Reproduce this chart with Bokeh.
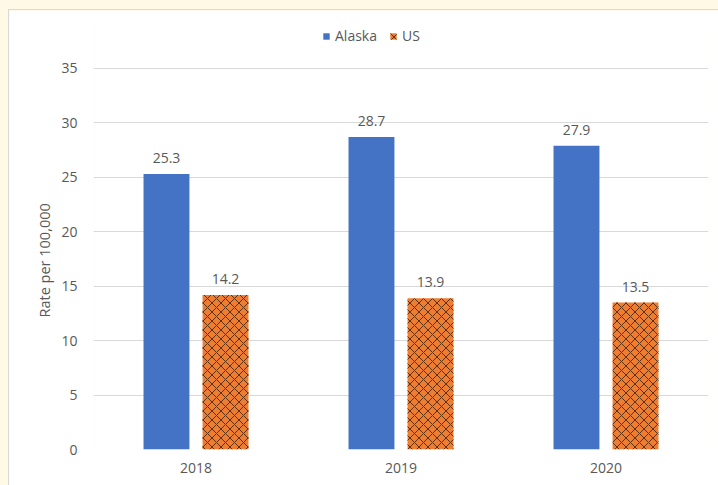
from bokeh.plotting import figure
from bokeh.models import (ColumnDataSource, Legend, LegendItem, FactorRange,
                          GlobalInlineStyleSheet, Range1d, Title)
from bokeh.transform import dodge
from bokeh.embed import file_html
from bokeh.resources import INLINE
from bokeh.core.properties import value

years = ["2018", "2019", "2020"]
alaska = [25.3, 28.7, 27.9]
us = [14.2, 13.9, 13.5]
y_ticks = [0, 5, 10, 15, 20, 25, 30, 35]
series_names = ["Alaska", "US"]
y_title = "Rate per 100,000"

src = ColumnDataSource(dict(
    year=years,
    alaska=alaska,
    us=us,
    alaska_lbl=[f"{v:.1f}" for v in alaska],
    us_lbl=[f"{v:.1f}" for v in us],
))

FONT = "Open Sans"
GRAY = "#595959"

# frame extends a little above 35 so the legend sits inside it
p = figure(
    x_range=FactorRange(factors=years, range_padding=0),
    y_range=Range1d(0, 39.5),
    width=712, height=478,
    min_border_left=84, min_border_right=13,
    min_border_top=9, min_border_bottom=39,
    output_backend="svg", toolbar_location=None,
)
p.stylesheets = [GlobalInlineStyleSheet(
    css="html,body{margin:0;padding:0;background:#FFF9E6;overflow:hidden;}")]
p.styles = {"border-left": "1px solid #D9D9D9",
            "border-top": "1px solid #D9D9D9",
            "margin-top": "9px",
            "margin-left": "8px"}

p.background_fill_color = "white"
p.border_fill_color = "white"
p.outline_line_color = None

r1 = p.vbar(x=dodge("year", -0.144, range=p.x_range), top="alaska", width=0.224,
            source=src, fill_color="#4472C4", line_color=None)
r2 = p.vbar(x=dodge("year", 0.144, range=p.x_range), top="us", width=0.224,
            source=src, fill_color="#ED7D31", line_color=None,
            hatch_pattern="diagonal_cross", hatch_color="#3a1d05",
            hatch_scale=9, hatch_weight=1, hatch_alpha=0.8)

for col, off in (("alaska", -0.144), ("us", 0.144)):
    p.text(x=dodge("year", off, range=p.x_range), y=col, text=col + "_lbl",
           source=src, text_align="center", text_baseline="bottom",
           y_offset=-11, text_font=value(FONT), text_font_size="14px",
           text_color=GRAY)

p.xgrid.grid_line_color = None
p.ygrid.grid_line_color = "#D9D9D9"
p.ygrid.grid_line_width = 1

p.yaxis.ticker = y_ticks
for ax in (p.xaxis[0], p.yaxis[0]):
    ax.axis_line_color = None
    ax.major_tick_line_color = None
    ax.minor_tick_line_color = None
    ax.major_label_text_font = FONT
    ax.major_label_text_font_size = "14px"
    ax.major_label_text_color = GRAY
p.yaxis.major_label_standoff = 10
p.xaxis.major_label_standoff = 7

ytitle = Title(text=y_title, align="left", offset=132, vertical_align="middle",
               text_font=FONT, text_font_size="14.5px", text_font_style="normal",
               text_color=GRAY, standoff=8)
p.add_layout(ytitle, "left")

legend = Legend(
    items=[LegendItem(label=series_names[0], renderers=[r1]),
           LegendItem(label=series_names[1], renderers=[r2])],
    orientation="horizontal", location=(229, 404),
    glyph_width=8, glyph_height=8, label_standoff=5, spacing=12,
    padding=0, margin=0, border_line_color=None, background_fill_alpha=0,
    label_text_font=FONT, label_text_font_size="14px", label_text_color=GRAY,
)
p.add_layout(legend)

open("out.html", "w").write(file_html(p, INLINE))
